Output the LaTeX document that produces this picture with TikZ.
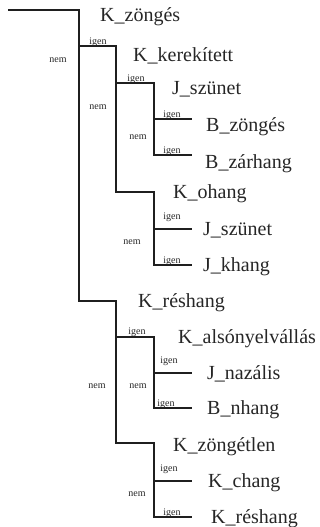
\documentclass[tikz,border=0pt]{standalone}
\usepackage{fontspec}
\setmainfont{Liberation Serif}
\begin{document}
\begin{tikzpicture}[x=1pt,y=-1pt,
  branch/.style={draw=black!88, line width=1.5pt, line join=miter, line cap=rect},
  lab/.style={anchor=base west, inner sep=0pt, font=\fontsize{20}{22}\selectfont, text=black!85},
  yes/.style={anchor=center, inner sep=0pt, font=\fontsize{10}{11}\selectfont, text=black!85},
  no/.style={anchor=center, inner sep=0pt, font=\fontsize{10}{11}\selectfont, text=black!85}]
\useasboundingbox (0,0) rectangle (320,527);
% branch points
\coordinate (s) at (9,10);
\coordinate (a) at (79,10);
\coordinate (a1) at (79,46);
\coordinate (a2) at (79,301);
\coordinate (b) at (116,46);
\coordinate (b1) at (116,83);
\coordinate (b2) at (116,192);
\coordinate (c) at (154,83);
\coordinate (c1) at (154,119);
\coordinate (c2) at (154,155);
\coordinate (d1) at (191,119);
\coordinate (d2) at (191,155);
\coordinate (e) at (154,192);
\coordinate (e1) at (154,229);
\coordinate (e2) at (154,265);
\coordinate (f1) at (191,229);
\coordinate (f2) at (191,265);
\coordinate (g) at (116,301);
\coordinate (g1) at (116,337);
\coordinate (g2) at (116,443);
\coordinate (h) at (154,337);
\coordinate (h1) at (154,373);
\coordinate (h2) at (154,408);
\coordinate (i1) at (191,373);
\coordinate (i2) at (191,408);
\coordinate (j) at (154,443);
\coordinate (j1) at (154,481);
\coordinate (j2) at (154,517);
\coordinate (k1) at (191,481);
\coordinate (k2) at (191,517);
% connectors
\draw[branch] (s) -- (a) -- (a2) -- (g) -- (g2) -- (j) -- (j2) -- (k2);
\draw[branch] (a1) -- (b) -- (b2) -- (e) -- (e2) -- (f2);
\draw[branch] (b1) -- (c) -- (c2) -- (d2);
\draw[branch] (c1) -- (d1);
\draw[branch] (e1) -- (f1);
\draw[branch] (g1) -- (h) -- (h2) -- (i2);
\draw[branch] (h1) -- (i1);
\draw[branch] (j1) -- (k1);
% main labels
\node[lab] (t1) at (100,22) {K\_zöngés};
\node[lab] (t2) at (133,62) {K\_kerekített};
\node[lab] (t3) at (172,94) {J\_szünet};
\node[lab] (t4) at (206,131) {B\_zöngés};
\node[lab] (t5) at (205,168) {B\_zárhang};
\node[lab] (t6) at (173,198) {K\_ohang};
\node[lab] (t7) at (203,235) {J\_szünet};
\node[lab] (t8) at (203,271) {J\_khang};
\node[lab] (t9) at (138,307) {K\_réshang};
\node[lab] (t10) at (178,343) {K\_alsónyelvállás};
\node[lab] (t11) at (207,379) {J\_nazális};
\node[lab] (t12) at (207,414) {B\_nhang};
\node[lab] (t13) at (173,451) {K\_zöngétlen};
\node[lab] (t14) at (208,487) {K\_chang};
\node[lab] (t15) at (211,523) {K\_réshang};
% igen labels
\node[yes] (y1) at (98,42) {igen};
\node[yes] (y2) at (136,79) {igen};
\node[yes] (y3) at (172,115) {igen};
\node[yes] (y4) at (172,151) {igen};
\node[yes] (y5) at (172,217) {igen};
\node[yes] (y6) at (172,261) {igen};
\node[yes] (y7) at (137,332) {igen};
\node[yes] (y8) at (169,361) {igen};
\node[yes] (y9) at (166,404) {igen};
\node[yes] (y10) at (169,469) {igen};
\node[yes] (y11) at (172,513) {igen};
% nem labels
\node[no] (n1) at (58,60) {nem};
\node[no] (n2) at (98,107) {nem};
\node[no] (n3) at (138,137) {nem};
\node[no] (n4) at (132,242) {nem};
\node[no] (n5) at (97,386) {nem};
\node[no] (n6) at (138,386) {nem};
\node[no] (n7) at (137,494) {nem};
\end{tikzpicture}
\end{document}
